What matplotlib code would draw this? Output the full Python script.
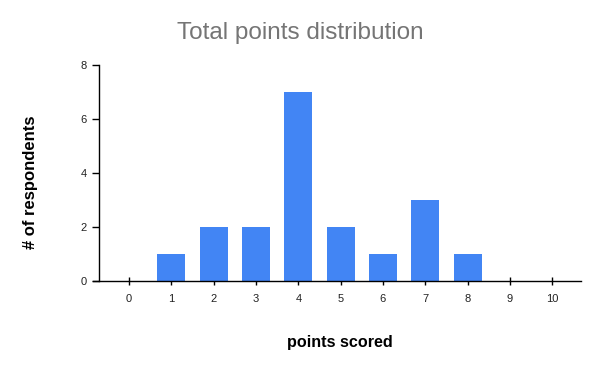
import matplotlib
matplotlib.use("Agg")
import matplotlib.pyplot as plt

points = [0, 1, 2, 3, 4, 5, 6, 7, 8, 9, 10]
respondents = [0, 1, 2, 2, 7, 2, 1, 3, 1, 0, 0]
y_ticks = [0, 2, 4, 6, 8]

plt.rcParams['font.family'] = ['Liberation Sans', 'DejaVu Sans']

fig = plt.figure(figsize=(6, 3.71), dpi=100)
ax = fig.add_axes([99/600, 1-281/371, (581-99)/600, (281-65)/371])

ax.bar(points, respondents, width=0.66, color='#4285f4', zorder=2)
ax.set_xlim(-0.71, 10.68)
ax.set_ylim(0, 8)
ax.set_xticks(points)
ax.set_xticklabels([str(p) for p in points])
ax.set_yticks(y_ticks)

for s in ['top', 'right']:
    ax.spines[s].set_visible(False)
ax.spines['left'].set_linewidth(1.0)
ax.spines['bottom'].set_linewidth(1.0)
ax.spines['bottom'].set_bounds(-0.86, 10.68)
ax.tick_params(axis='x', direction='inout', length=6, width=1, labelsize=8, pad=6, colors='black')
ax.tick_params(axis='y', direction='out', length=5, width=1, labelsize=8, pad=4, colors='black')
for lab in ax.get_xticklabels() + ax.get_yticklabels():
    lab.set_color('#222222')
ax.spines['bottom'].set_clip_on(False)

fig.text(300/600, 1-33/371, 'Total points distribution', ha='center', va='center',
         fontsize=17.5, color='#757575')
fig.text(340/600, 1-342/371, 'points scored', ha='center', va='center',
         fontsize=11.6, fontweight='bold', color='black')
fig.text(31/600, 1-182/371, '# of respondents', ha='center', va='center',
         fontsize=12, fontweight='bold', color='black', rotation=90)

fig.savefig('out.png', dpi=100)
